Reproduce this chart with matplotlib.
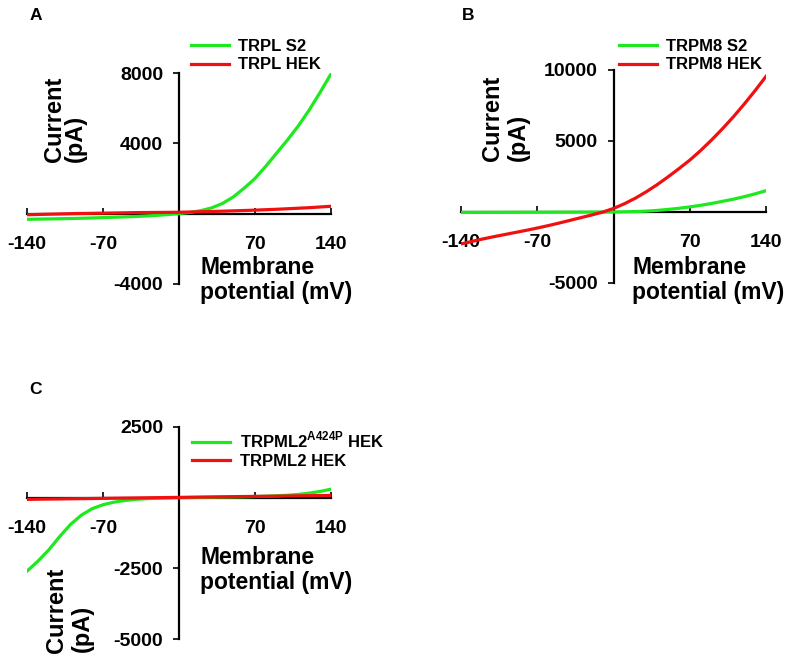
import numpy as np
import matplotlib.pyplot as plt

plt.rcParams['font.family'] = ['Liberation Sans', 'DejaVu Sans']
plt.rcParams['mathtext.fontset'] = 'custom'
plt.rcParams['mathtext.rm'] = 'Liberation Sans:bold'
plt.rcParams['mathtext.bf'] = 'Liberation Sans:bold'

# membrane potential (mV)
mv = np.arange(-140, 141, 10)

# panel A
trpl_s2 = [-320, -310, -300, -290, -275, -260, -245, -225, -205, -185, -160, -130, -95, -50,
           10, 70, 170, 330, 580, 950, 1450, 2000, 2700, 3450, 4200, 5000, 5900, 6900, 7950]
trpl_hek = [-60, -45, -30, -15, 0, 10, 20, 30, 40, 50, 60, 65, 70, 75,
            80, 95, 110, 125, 140, 160, 180, 200, 225, 250, 280, 310, 340, 380, 420]

# panel B
trpm8_s2 = [-30, -28, -26, -24, -22, -20, -18, -16, -14, -12, -10, -8, -6, -3,
            0, 10, 30, 60, 110, 180, 260, 360, 470, 600, 750, 900, 1080, 1280, 1500]
trpm8_hek = [-2250, -2070, -1900, -1740, -1590, -1440, -1290, -1130, -960, -780, -590, -400, -210, -10,
             250, 580, 970, 1420, 1920, 2470, 3050, 3650, 4330, 5070, 5860, 6700, 7600, 8550, 9550]

# panel C
trpml2_mut = [-2600, -2250, -1850, -1380, -950, -620, -390, -250, -160, -100, -60, -35, -20, -10,
              0, 5, 10, 15, 20, 25, 30, 40, 50, 65, 85, 115, 160, 220, 300]
trpml2_hek = [-60, -55, -50, -45, -40, -35, -30, -25, -20, -15, -10, -5, 0, 5,
              10, 15, 20, 25, 30, 35, 40, 45, 50, 55, 60, 65, 70, 75, 80]

xticks = [-140, -70, 70, 140]
green = '#1ee81e'
red = '#f01010'

W, H = 795, 660
fig = plt.figure(figsize=(W / 100, H / 100), dpi=100)


def px(x, y):
    return x / W, 1 - y / H


def make_panel(box, ylim, yticks, g, r, labels, letter, lpos, legpos, cur, pa, mem):
    x0, y0, x1, y1 = box  # pixel box (left, top, right, bottom)
    ax = fig.add_axes([x0 / W, 1 - y1 / H, (x1 - x0) / W, (y1 - y0) / H])
    ax.plot(mv, g, color=green, lw=2.3, zorder=3, label=labels[0])
    ax.plot(mv, r, color=red, lw=2.3, zorder=3, label=labels[1])
    ax.set_xlim(-140, 140)
    ax.set_ylim(*ylim)
    ax.spines['left'].set_position(('data', 0))
    ax.spines['bottom'].set_position(('data', 0))
    ax.spines['top'].set_visible(False)
    ax.spines['right'].set_visible(False)
    for s in ('left', 'bottom'):
        ax.spines[s].set_linewidth(1.6)
    ax.set_xticks(xticks)
    ax.set_xticklabels([str(t) for t in xticks], fontsize=14, fontweight='bold')
    ax.set_yticks(yticks)
    ax.set_yticklabels([str(t) for t in yticks], fontsize=14, fontweight='bold')
    ax.tick_params(axis='x', direction='in', length=4, width=1.2, pad=16)
    ax.tick_params(axis='y', direction='out', length=4.5, width=1.2, pad=7)
    ax.patch.set_visible(False)

    fig.text(*px(*lpos), letter, fontsize=12.5, fontweight='bold', ha='center', va='center')
    fig.text(*px(*cur), 'Current', fontsize=17, fontweight='bold', rotation=90,
             ha='center', va='bottom')
    fig.text(*px(*pa), '(pA)', fontsize=17, fontweight='bold', rotation=90,
             ha='center', va='bottom')
    fig.text(*px(mem[0], mem[1]), 'Membrane', fontsize=16.5, fontweight='bold',
             ha='left', va='center')
    fig.text(*px(mem[0], mem[1] + 25), 'potential (mV)', fontsize=16.5, fontweight='bold',
             ha='left', va='center')

    leg = ax.legend(loc='upper left', bbox_to_anchor=px(*legpos), bbox_transform=fig.transFigure,
                    frameon=False, fontsize=12, handlelength=2.3, handletextpad=0.55,
                    labelspacing=0.2, borderpad=0, borderaxespad=0)
    for t in leg.get_texts():
        t.set_fontweight('bold')
    return ax


make_panel((27, 73, 331, 284), (-4000, 8000), [-4000, 4000, 8000], trpl_s2, trpl_hek,
           ['TRPL S2', 'TRPL HEK'], 'A', (36, 15), (191, 39), (54, 162), (75, 162), (200, 268))

make_panel((461, 70, 766, 283), (-5000, 10000), [-5000, 5000, 10000], trpm8_s2, trpm8_hek,
           ['TRPM8 S2', 'TRPM8 HEK'], 'B', (468, 15), (619, 39), (492, 161), (518, 161), (632, 267))

make_panel((27, 427, 331, 639), (-5000, 2500), [-5000, -2500, 2500], trpml2_mut, trpml2_hek,
           [r'TRPML2$^{\mathrm{A424P}}$ HEK', 'TRPML2 HEK'], 'C', (36, 389), (192, 430),
           (56, 653), (82, 652), (200, 558))

fig.savefig('out.png', dpi=100)
